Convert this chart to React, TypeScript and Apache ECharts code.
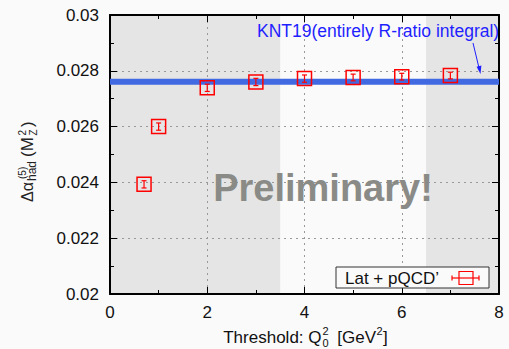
import React, { useEffect, useRef } from "react";
import * as echarts from "echarts";

const thresholds = [0.7, 1, 2, 3, 4, 5, 6, 7];
const deltaAlpha = [0.02393, 0.026, 0.02739, 0.0276, 0.02772, 0.02776, 0.02779, 0.02783];
const deltaAlphaErr = [0.00013, 0.00013, 0.00013, 0.00013, 0.00013, 0.00012, 0.00012, 0.00012];
const knt19Value = 0.02761;
const knt19Range = [0, 8];
const shadedRanges = [
  [0, 3.5],
  [6.5, 8],
];
const yTicks = { min: 0.02, max: 0.03, step: 0.002 };
const xTicks = { min: 0, max: 8, step: 2 };

const FONT = "'Liberation Sans', Arial, Helvetica, sans-serif";
// place text by its baseline (zrender 'middle' sits ~0.35em above the baseline for Arial metrics)
const mid = (baseline: number, size: number) => baseline - 0.35 * size;

export default function App() {
  const ref = useRef<HTMLDivElement>(null);
  useEffect(() => {
    if (!ref.current) return;
    const chart = echarts.init(ref.current, null, { renderer: "svg" });
    const axisCommon = {
      axisLine: { show: true, onZero: false, lineStyle: { color: "#000", width: 2 } },
      axisTick: { show: true, inside: true, length: 7, lineStyle: { color: "#000", width: 1 } },
      minorTick: { show: true, splitNumber: 2, length: 4, lineStyle: { color: "#000", width: 1 } },
    };
    const points = thresholds.map((x, i) => [x, deltaAlpha[i], deltaAlphaErr[i]]);
    const txt = (
      x: number,
      baseline: number,
      text: string,
      size: number,
      fill = "#111",
      align = "left"
    ) => ({
      type: "text",
      x,
      y: mid(baseline, size),
      style: { text, fontSize: size, fontFamily: FONT, fill, verticalAlign: "middle", align },
    });
    const option: any = {
      animation: false,
      backgroundColor: "#fafafa",
      grid: { left: 110, right: 10, top: 15, bottom: 55, containLabel: false },
      xAxis: [
        {
          type: "value",
          min: xTicks.min,
          max: xTicks.max,
          interval: xTicks.step,
          position: "bottom",
          ...axisCommon,
          axisLabel: { color: "#111", fontSize: 17, fontFamily: FONT, margin: 10 },
          splitLine: { show: true, lineStyle: { color: "#999", width: 1, type: [2, 4] } },
        },
        {
          type: "value",
          min: xTicks.min,
          max: xTicks.max,
          interval: xTicks.step,
          position: "top",
          ...axisCommon,
          axisLabel: { show: false },
          splitLine: { show: false },
        },
      ],
      yAxis: [
        {
          type: "value",
          min: yTicks.min,
          max: yTicks.max,
          interval: yTicks.step,
          position: "left",
          ...axisCommon,
          axisLabel: { color: "#111", fontSize: 17, fontFamily: FONT, margin: 11 },
          splitLine: { show: true, lineStyle: { color: "#999", width: 1, type: [2, 4] } },
        },
        {
          type: "value",
          min: yTicks.min,
          max: yTicks.max,
          interval: yTicks.step,
          position: "right",
          ...axisCommon,
          axisLabel: { show: false },
          splitLine: { show: false },
        },
      ],
      series: [
        {
          type: "custom",
          z: -1,
          silent: true,
          data: shadedRanges,
          renderItem: (params: any, api: any) => {
            const p0 = api.coord([api.value(0), yTicks.max]);
            const p1 = api.coord([api.value(1), yTicks.min]);
            return {
              type: "rect",
              shape: { x: p0[0], y: p0[1], width: p1[0] - p0[0], height: p1[1] - p0[1] },
              style: { fill: "#e5e5e5" },
            };
          },
        },
        {
          type: "line",
          z: 3,
          symbol: "none",
          data: knt19Range.map((x) => [x, knt19Value]),
          lineStyle: { color: "#4169e1", width: 6 },
        },
        {
          type: "custom",
          z: 5,
          data: points,
          renderItem: (params: any, api: any) => {
            const x = api.value(0);
            const y = api.value(1);
            const e = api.value(2);
            const c = api.coord([x, y]);
            const t = api.coord([x, y + e]);
            const b = api.coord([x, y - e]);
            const red = "#ff0000";
            return {
              type: "group",
              children: [
                {
                  type: "rect",
                  shape: { x: c[0] - 7, y: c[1] - 7, width: 14, height: 14 },
                  style: { fill: "none", stroke: red, lineWidth: 1.5 },
                },
                { type: "line", shape: { x1: c[0], y1: t[1], x2: c[0], y2: b[1] }, style: { stroke: red, lineWidth: 1.2 } },
                { type: "line", shape: { x1: c[0] - 2.5, y1: t[1], x2: c[0] + 2.5, y2: t[1] }, style: { stroke: red, lineWidth: 1.2 } },
                { type: "line", shape: { x1: c[0] - 2.5, y1: b[1], x2: c[0] + 2.5, y2: b[1] }, style: { stroke: red, lineWidth: 1.2 } },
              ],
            };
          },
        },
      ],
      graphic: [
        {
          type: "text",
          z: 50,
          x: 323,
          y: 188,
          style: {
            text: "Preliminary!",
            fontSize: 38,
            fontWeight: "bold",
            fontFamily: FONT,
            fill: "#8a8b87",
            align: "center",
            verticalAlign: "middle",
          },
        },
        { ...txt(257, 37, "KNT19(entirely R-ratio integral)", 17.5, "#1f1fff"), z: 50 },
        {
          type: "line",
          z: 50,
          shape: { x1: 473, y1: 43, x2: 479.5, y2: 70 },
          style: { stroke: "#1f1fff", lineWidth: 1 },
        },
        {
          type: "polygon",
          z: 50,
          shape: { points: [[480.5, 74], [481.4, 65.6], [476.6, 66.8]] },
          style: { fill: "#1f1fff" },
        },
        // legend
        {
          type: "rect",
          z: 60,
          shape: { x: 336, y: 267, width: 153, height: 21 },
          style: { fill: "#fafafa", stroke: "#333", lineWidth: 1 },
        },
        { ...txt(345, 284, "Lat + pQCD’", 17), z: 61 },
        { type: "rect", z: 61, shape: { x: 459, y: 271.5, width: 14, height: 13 }, style: { fill: "none", stroke: "#ff0000", lineWidth: 1.2 } },
        { type: "line", z: 61, shape: { x1: 452, y1: 278, x2: 479, y2: 278 }, style: { stroke: "#ff0000", lineWidth: 1.2 } },
        { type: "line", z: 61, shape: { x1: 452, y1: 275.5, x2: 452, y2: 280.5 }, style: { stroke: "#ff0000", lineWidth: 1.2 } },
        { type: "line", z: 61, shape: { x1: 479, y1: 275.5, x2: 479, y2: 280.5 }, style: { stroke: "#ff0000", lineWidth: 1.2 } },
        // x axis title
        {
          type: "group",
          z: 50,
          children: [
            txt(321.5, 343, "Threshold: Q", 17, "#111", "right"),
            txt(322.5, 347, "0", 11),
            txt(322.5, 334.5, "2", 11),
            txt(376, 343, "[GeV", 17, "#111", "right"),
            txt(376.5, 334.5, "2", 11),
            txt(383, 343, "]", 17),
          ],
        },
        // y axis title (rotated)
        {
          type: "group",
          z: 50,
          x: 33,
          y: 202,
          rotation: Math.PI / 2,
          children: [
            txt(0, 0, "Δα", 16, "#222"),
            txt(21, 3.5, "had", 12, "#222"),
            txt(23, -7.5, "(5)", 10, "#222"),
            txt(45, 0, "(M", 17, "#222"),
            txt(66.5, 3.5, "Z", 10, "#222"),
            txt(66.5, -7.5, "2", 10, "#222"),
            txt(75, 0, ")", 17, "#222"),
          ],
        },
      ],
    };
    chart.setOption(option);
    return () => chart.dispose();
  }, []);
  return (
    <div
      ref={ref}
      style={{ position: "absolute", left: 0, top: 0, width: 509, height: 349 }}
    />
  );
}
